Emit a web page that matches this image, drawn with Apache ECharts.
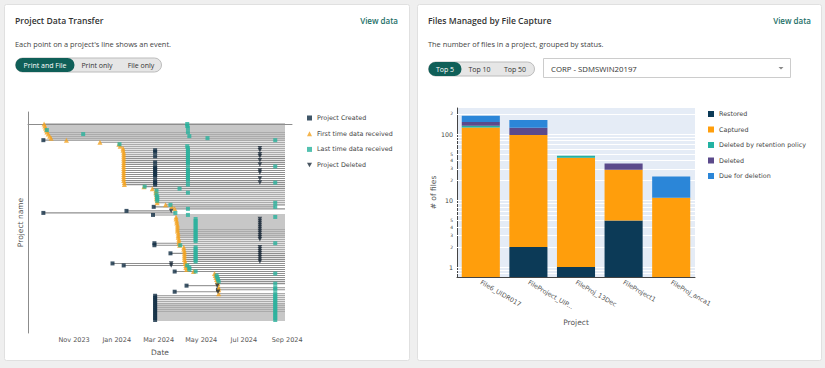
<!DOCTYPE html>
<html><head><meta charset="utf-8">
<script src="https://cdn.jsdelivr.net/npm/echarts@6/dist/echarts.min.js"></script>
<style>html,body{margin:0;padding:0;background:#efefef;}#c{width:825px;height:368px;}</style>
</head><body><div id="c"></div>
<script>
// ---------- Left chart: Project Data Transfer ----------
const projectNames = Array.from({length: 98}, (_, i) => 'Project ' + String(i + 1).padStart(2, '0'));
const createdDates = [
 null,null,null,null,null,null,null,null,'2023-09-18',null,
 null,null,null,'2024-02-25','2024-02-25',null,'2024-02-25',null,null,'2024-02-25',
 null,'2024-02-25','2024-02-25','2024-02-25','2024-02-25','2024-02-25','2024-02-25',null,'2024-02-25','2024-02-25',
 '2024-02-25',null,null,null,null,null,null,null,null,null,
 null,'2024-02-23',null,'2024-01-15','2023-09-18','2024-02-22',null,null,null,null,
 null,null,null,null,null,null,null,null,null,'2024-02-24',
 '2024-02-24',null,null,null,'2024-03-18',null,null,null,null,'2023-12-26',
 '2024-01-11',null,null,'2024-03-24',null,null,null,null,null,null,
 '2024-04-10',null,'2024-05-25','2024-03-24',null,'2024-02-25','2024-02-25','2024-02-25','2024-02-25','2024-02-25',
 '2024-02-25','2024-02-25','2024-02-25','2024-02-25','2024-02-25','2024-02-25','2024-02-25','2024-02-25'
];
const firstDataDates = [
 '2023-09-19','2023-09-20','2023-09-21','2023-09-22','2023-09-23','2023-09-25','2023-09-27','2023-09-29','2023-10-21','2023-12-08',
 '2024-01-04','2024-01-06','2024-01-10','2024-01-10','2024-01-11','2024-01-11','2024-01-11','2024-01-11','2024-01-11','2024-01-11',
 '2024-01-11','2024-01-11','2024-01-11','2024-01-11','2024-01-11','2024-01-11','2024-01-11','2024-01-11','2024-01-11','2024-01-12',
 '2024-01-12','2024-02-09','2024-02-21','2024-02-26','2024-02-26','2024-02-27','2024-02-27','2024-02-27','2024-02-28','2024-02-28',
 '2024-03-11','2024-03-20','2024-03-24',null,null,null,'2024-03-26','2024-03-26','2024-03-27','2024-03-27',
 '2024-03-28','2024-03-28','2024-03-28','2024-03-28','2024-03-29','2024-03-29','2024-03-29','2024-03-30','2024-03-30','2024-03-30',
 '2024-03-31','2024-04-06','2024-04-06','2024-04-07','2024-04-07','2024-04-07','2024-04-07','2024-04-07','2024-04-08','2024-04-08',
 '2024-04-09','2024-04-09','2024-04-10','2024-04-20','2024-05-20','2024-05-21','2024-05-22','2024-05-23','2024-05-24','2024-05-25',
 null,'2024-05-26','2024-05-26',null,'2024-05-26',null,null,null,null,null,
 null,null,null,null,null,null,null,null
];
const lastDataDates = [
 '2024-04-11','2024-04-11','2024-04-12','2023-09-23','2024-04-12','2023-11-14','2024-04-14','2024-05-10','2024-08-15',null,
 '2024-01-05','2024-04-11','2024-04-12','2024-04-12','2024-04-12','2024-04-12','2024-04-12','2024-04-12','2024-04-12','2024-04-12',
 '2024-04-12','2024-08-15','2024-04-12','2024-04-12','2024-04-12','2024-04-12','2024-04-12','2024-04-12','2024-04-12','2024-08-15',
 '2024-04-12','2024-02-10','2024-03-31','2024-02-27','2024-04-12','2024-02-27','2024-02-28','2024-02-28','2024-02-28','2024-08-15',
 '2024-03-18','2024-08-15','2024-04-12',null,'2024-03-25','2024-04-12','2024-08-15','2024-04-23','2024-04-23','2024-04-23',
 '2024-04-23','2024-04-23','2024-04-23','2024-04-23','2024-04-23','2024-04-23','2024-04-23','2024-04-23','2024-04-23','2024-08-15',
 '2024-04-01','2024-04-23','2024-04-23','2024-04-23','2024-04-23','2024-04-23','2024-04-23','2024-04-23','2024-04-23',null,
 '2024-04-11','2024-04-14','2024-04-14','2024-04-23','2024-08-15','2024-05-23','2024-05-24','2024-05-25','2024-05-26','2024-08-15',
 null,'2024-08-15','2024-08-15',null,'2024-08-15','2024-08-15','2024-08-15','2024-08-15','2024-08-15','2024-08-15',
 '2024-08-15','2024-08-15','2024-08-15','2024-08-15','2024-08-15','2024-08-15','2024-08-15','2024-08-15'
];
const deletedDates = [
 null,null,null,null,null,null,null,null,null,null,
 null,null,'2024-07-24','2024-07-24',null,'2024-07-24','2024-07-24',null,'2024-07-24',null,
 '2024-07-24',null,null,'2024-07-24','2024-07-24',null,null,'2024-07-24',null,'2024-07-24',
 null,null,null,null,null,null,null,null,null,null,
 null,null,null,'2024-03-19',null,null,null,'2024-07-24','2024-07-24','2024-07-24',
 '2024-07-24','2024-07-24','2024-07-24','2024-07-24','2024-07-24','2024-07-24','2024-07-24','2024-07-24',null,null,
 null,'2024-07-24','2024-07-24','2024-07-24','2024-07-24','2024-07-24','2024-07-24','2024-07-24','2024-07-24','2024-03-19',
 '2024-03-19',null,null,null,null,null,null,null,null,null,
 '2024-05-24',null,null,'2024-05-25',null,null,null,null,null,null,
 null,null,null,null,null,null,null,null
];
const activeUntil = [
 '2024-08-29','2024-08-29','2024-08-29','2024-08-29','2024-08-29','2024-08-29','2024-08-29','2024-08-29','2024-08-29','2024-08-29',
 '2024-08-29','2024-08-29','2024-08-29','2024-08-29','2024-08-29','2024-08-29','2024-08-29','2024-08-29','2024-08-29','2024-08-29',
 '2024-08-29','2024-08-29','2024-08-29','2024-08-29','2024-08-29','2024-08-29','2024-08-29','2024-08-29','2024-08-29','2024-08-29',
 '2024-08-29','2024-08-29','2024-08-29','2024-08-29','2024-08-29','2024-08-29','2024-08-29','2024-08-29','2024-08-29','2024-08-29',
 '2024-08-29','2024-08-15','2024-08-29','2024-03-19','2024-03-25','2024-08-29','2024-08-29','2024-08-29','2024-08-29','2024-08-29',
 '2024-08-29','2024-08-29','2024-08-29','2024-08-29','2024-08-29','2024-08-29','2024-08-29','2024-08-29','2024-08-29','2024-08-29',
 '2024-08-29','2024-08-29','2024-08-29','2024-08-29','2024-08-29','2024-08-29','2024-08-29','2024-08-29','2024-08-29','2024-08-29',
 '2024-08-29','2024-08-29','2024-08-29','2024-08-29','2024-08-29','2024-08-29','2024-08-29','2024-08-29','2024-08-29','2024-08-29',
 '2024-05-24','2024-08-29','2024-08-29','2024-05-25','2024-08-29','2024-08-29','2024-08-29','2024-08-29','2024-08-29','2024-08-29',
 '2024-08-29','2024-08-29','2024-08-29','2024-08-29','2024-08-29','2024-08-29','2024-08-29','2024-08-29'
];
const dateTickValues = ['2023-11-01','2024-01-01','2024-03-01','2024-05-01','2024-07-01','2024-09-01'];
const dateTickLabels = ['Nov 2023','Jan 2024','Mar 2024','May 2024','Jul 2024','Sep 2024'];
const eventNames = ['Project Created','First time data received','Last time data received','Project Deleted'];

// ---------- Right chart: Files Managed by File Capture ----------
const fileProjects = ['File6_UIDR017','FileProject_UIP...','FileProj_13Dec','FileProject1','FileProj_anca1'];
const statusNames = ['Restored','Captured','Deleted by retention policy','Deleted','Due for deletion'];
const restored = [0, 2, 1, 5, 0];
const captured = [125, 95, 43, 24, 11];
const deletedByRetention = [8, 0, 3, 0, 0];
const deletedFiles = [18, 27, 0, 7, 0];
const dueForDeletion = [37, 39, 0, 0, 12];
const fileTickValues = [0.8, 0.9, 1, 2, 3, 4, 5, 6, 7, 8, 9, 10, 20, 30, 40, 50, 60, 70, 80, 90, 100, 200];
const fileTickLabels = ['', '', '1', '2', '3', '4', '5', '', '', '', '', '10', '2', '3', '4', '5', '', '', '', '', '100', '2'];
const fileMajorTicks = [1, 10, 100];

// ---------- build ----------
const t = s => new Date(s + 'T00:00:00').getTime();
const FONT = 'DejaVu Sans';
const UI = 'Open Sans';
const dateTickNums = dateTickValues.map(t);

const lineData = projectNames.map((name, i) => {
  const evs = [createdDates[i], firstDataDates[i], lastDataDates[i], deletedDates[i]].filter(Boolean).map(t);
  return [Math.min(...evs), t(activeUntil[i]), i, name];
});
const mk = arr => arr.map((d, i) => d ? [t(d), i, projectNames[i]] : null).filter(Boolean);

const yMinFiles = 0.71, yMaxFiles = 246;
const stacks = [restored, captured, deletedByRetention, deletedFiles, dueForDeletion];
const statusColors = ['#0c3a57', '#ff9e0c', '#22b2a2', '#5b4a8b', '#2b86d8'];
const cum = [fileProjects.map(() => 0)];
stacks.forEach((s, k) => cum.push(s.map((v, i) => cum[k][i] + v)));

function barSeries(k) {
  return {
    type: 'custom', name: statusNames[k], xAxisIndex: 1, yAxisIndex: 1, z: 3,
    itemStyle: {color: statusColors[k]},
    encode: {x: 0, y: [1, 2]},
    data: fileProjects.map((p, i) => [i, cum[k][i] > 0 ? cum[k][i] : yMinFiles, cum[k + 1][i], p])
      .filter((d, i) => stacks[k][i] > 0),
    renderItem(params, api) {
      const top = api.coord([api.value(0), api.value(2)]);
      const bot = api.coord([api.value(0), api.value(1)]);
      const w = api.size([1, 0])[0] * 0.8;
      return {type: 'rect', shape: {x: top[0] - w / 2, y: top[1], width: w, height: bot[1] - top[1]},
        style: {fill: api.visual('color')}};
    }
  };
}

const txt = (text, x, y, o = {}) => ({
  type: 'text', x, y, z: 10, silent: true,
  style: Object.assign({text, fontFamily: UI, fontSize: 7.4, fill: '#444', verticalAlign: 'middle', align: 'left'}, o)
});
const rect = (x, y, w, h, fill, o = {}) => ({
  type: 'rect', z: o.z != null ? o.z : 5, silent: true,
  shape: {x, y, width: w, height: h, r: o.r || 0},
  style: {fill, stroke: o.stroke || null, lineWidth: o.lw || 1}
});

const graphics = [
  rect(4.5, 4.5, 405, 356, '#ffffff', {stroke: '#e0e0e0', z: -10, r: 2}),
  rect(417.5, 4.5, 404, 356, '#ffffff', {stroke: '#e0e0e0', z: -10, r: 2}),
  txt('Project Data Transfer', 15, 20.5, {fontSize: 8.6, fontWeight: 600, fill: '#333'}),
  txt('View data', 398, 20, {fontSize: 8, fontWeight: 600, fill: '#1c6f67', align: 'right'}),
  txt("Each point on a project's line shows an event.", 15, 43.5),
  rect(15.5, 58, 146, 14, '#e6e6e6', {stroke: '#bcbcbc', r: 7}),
  rect(15.5, 58, 59, 14, '#0f5f58', {r: 7, z: 6}),
  txt('Print and File', 45, 65, {align: 'center', fill: '#fff', fontSize: 7}),
  txt('Print only', 97, 65, {align: 'center', fill: '#333', fontSize: 7}),
  txt('File only', 141, 65, {align: 'center', fill: '#333', fontSize: 7}),

  txt('Files Managed by File Capture', 428, 20.5, {fontSize: 8.6, fontWeight: 600, fill: '#333'}),
  txt('View data', 811, 20, {fontSize: 8, fontWeight: 600, fill: '#1c6f67', align: 'right'}),
  txt('The number of files in a project, grouped by status.', 428, 43.5),
  rect(428.5, 62, 106, 14, '#e6e6e6', {stroke: '#bcbcbc', r: 7}),
  rect(428.5, 62, 33, 14, '#0f5f58', {r: 7, z: 6}),
  txt('Top 5', 445, 69, {align: 'center', fill: '#fff', fontSize: 7}),
  txt('Top 10', 479.5, 69, {align: 'center', fill: '#333', fontSize: 7}),
  txt('Top 50', 515, 69, {align: 'center', fill: '#333', fontSize: 7}),
  rect(543.5, 58.5, 247, 19, '#ffffff', {stroke: '#cccccc'}),
  txt('CORP - SDMSWIN20197', 551, 68.5, {fontSize: 7.8, fill: '#333'}),
  {type: 'polygon', z: 10, silent: true, shape: {points: [[778.5, 67], [783.5, 67], [781, 69.5]]}, style: {fill: '#888'}}
];

const chart = echarts.init(document.getElementById('c'), null, {renderer: 'svg'});
chart.setOption({
  animation: false,
  backgroundColor: '#efefef',
  graphic: {elements: graphics},
  grid: [
    {left: 28, top: 112, width: 264, height: 221, outerBoundsMode: 'none', containLabel: false},
    {left: 457, top: 108, width: 238, height: 169, outerBoundsMode: 'none', containLabel: false,
     show: true, backgroundColor: '#e5ecf6', borderWidth: 0}
  ],
  legend: [
    {data: eventNames.map(n => ({name: n})), orient: 'vertical', left: 307, top: 114, padding: 0,
     itemWidth: 5, itemHeight: 5, itemGap: 7.7, selectedMode: false,
     textStyle: {fontFamily: FONT, fontSize: 6.4, color: '#444', lineHeight: 8}},
    {data: statusNames.map(n => ({name: n, icon: 'rect'})), orient: 'vertical', left: 708, top: 110, padding: 0,
     itemWidth: 6, itemHeight: 6, itemGap: 7.5, selectedMode: false,
     textStyle: {fontFamily: FONT, fontSize: 6.4, color: '#444', lineHeight: 8}}
  ],
  xAxis: [
    {gridIndex: 0, type: 'value', min: t('2023-08-27'), max: t('2024-09-08'),
     axisLine: {show: true, lineStyle: {color: '#8c8c8c', width: 1}},
     axisTick: {show: false}, splitLine: {show: false},
     axisLabel: {customValues: dateTickNums, fontFamily: FONT, fontSize: 6.5, color: '#555', margin: 3,
       showMinLabel: true, showMaxLabel: true, hideOverlap: false,
       formatter: v => { const k = dateTickNums.indexOf(v); return k >= 0 ? dateTickLabels[k] : ''; }},
     name: 'Date', nameLocation: 'middle', nameGap: 15,
     nameTextStyle: {fontFamily: FONT, fontSize: 7.5, color: '#555'}},
    {gridIndex: 1, type: 'category', data: fileProjects,
     axisLine: {show: true, lineStyle: {color: '#444', width: 1}},
     axisTick: {show: false}, splitLine: {show: false},
     axisLabel: {rotate: -30, interval: 0, fontFamily: FONT, fontSize: 6.4, color: '#555', margin: 5},
     name: 'Project', nameLocation: 'middle', nameGap: 41,
     nameTextStyle: {fontFamily: FONT, fontSize: 7.5, color: '#555'}}
  ],
  yAxis: [
    {gridIndex: 0, type: 'value', inverse: true, min: -5.94, max: 103.43,
     axisLine: {show: true, lineStyle: {color: '#8c8c8c', width: 1}},
     axisTick: {show: false}, axisLabel: {show: false}, splitLine: {show: false},
     name: 'Project name', nameLocation: 'middle', nameGap: 4,
     nameTextStyle: {fontFamily: FONT, fontSize: 7.5, color: '#555'}},
    {gridIndex: 1, type: 'log', min: yMinFiles, max: yMaxFiles,
     axisLine: {show: true, lineStyle: {color: '#444', width: 1}},
     axisTick: {show: false}, axisLabel: {show: false}, splitLine: {show: false},
     name: '# of files', nameLocation: 'middle', nameGap: 20,
     nameTextStyle: {fontFamily: FONT, fontSize: 7.5, color: '#555'}}
  ],
  series: [
    {type: 'custom', name: 'lines', xAxisIndex: 0, yAxisIndex: 0, silent: true, z: 1,
     encode: {x: [0, 1], y: 2}, data: lineData,
     renderItem(params, api) {
       const s = api.coord([api.value(0), api.value(2)]);
       const e = api.coord([api.value(1), api.value(2)]);
       return {type: 'line', shape: {x1: s[0], y1: s[1], x2: e[0], y2: e[1]}, style: {stroke: '#8f8f8f', lineWidth: 1.1}};
     }},
    {type: 'scatter', name: eventNames[0], xAxisIndex: 0, yAxisIndex: 0, z: 3, symbol: 'rect', symbolSize: 4,
     itemStyle: {color: '#0f2c42'}, data: mk(createdDates)},
    {type: 'scatter', name: eventNames[1], xAxisIndex: 0, yAxisIndex: 0, z: 3, symbol: 'triangle', symbolSize: 5,
     itemStyle: {color: '#f3a221'}, data: mk(firstDataDates)},
    {type: 'scatter', name: eventNames[2], xAxisIndex: 0, yAxisIndex: 0, z: 3, symbol: 'rect', symbolSize: 4,
     itemStyle: {color: '#28b29c'}, data: mk(lastDataDates)},
    {type: 'scatter', name: eventNames[3], xAxisIndex: 0, yAxisIndex: 0, z: 3, symbol: 'path://M0,0L10,0L5,9Z', symbolSize: 4.5,
     itemStyle: {color: '#1c2a3a'}, data: mk(deletedDates)},
    {type: 'scatter', name: 'gridlines', xAxisIndex: 1, yAxisIndex: 1, data: [], silent: true,
     markLine: {silent: true, symbol: ['none', 'none'], animation: false, z: 1,
       lineStyle: {color: '#ffffff', width: 1, type: 'solid'},
       emphasis: {disabled: true},
       label: {show: true, position: 'start', distance: 4, color: '#444',
         formatter: p => {
           const k = fileTickValues.indexOf(p.value);
           const s = k >= 0 ? fileTickLabels[k] : '';
           if (!s) return '';
           return fileMajorTicks.includes(p.value) ? '{b|' + s + '}' : '{s|' + s + '}';
         },
         rich: {b: {fontFamily: FONT, fontSize: 6.3, color: '#444'}, s: {fontFamily: FONT, fontSize: 4.5, color: '#444'}}},
       data: fileTickValues.map(v => ({yAxis: v}))}},
    ...statusNames.map((n, k) => barSeries(k))
  ]
});
</script></body></html>
